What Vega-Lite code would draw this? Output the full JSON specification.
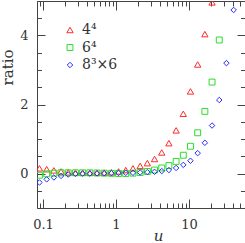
{
  "$schema": "https://vega.github.io/schema/vega-lite/v6.json",
  "width": 208,
  "height": 207,
  "autosize": {"type": "none"},
  "padding": {"left": 37, "top": 1, "right": 0, "bottom": 35},
  "config": {
    "view": {"stroke": "#444", "strokeWidth": 1},
    "font": "DejaVu Serif",
    "axis": {"domain": false, "grid": false, "tickColor": "#444", "tickWidth": 1, "labelColor": "#333", "labelFont": "DejaVu Serif", "labelFontSize": 13, "titleFont": "DejaVu Serif", "titleColor": "#333", "titleFontWeight": "normal"}
  },
  "data": {"values": [
    {"s": "4⁴", "u": 0.0895, "r": 0.15},
    {"s": "4⁴", "u": 0.1123, "r": 0.125},
    {"s": "4⁴", "u": 0.141, "r": 0.09},
    {"s": "4⁴", "u": 0.1768, "r": 0.06},
    {"s": "4⁴", "u": 0.2218, "r": 0.035},
    {"s": "4⁴", "u": 0.2783, "r": 0.025},
    {"s": "4⁴", "u": 0.349, "r": 0.02},
    {"s": "4⁴", "u": 0.438, "r": 0.02},
    {"s": "4⁴", "u": 0.5495, "r": 0.02},
    {"s": "4⁴", "u": 0.6895, "r": 0.025},
    {"s": "4⁴", "u": 0.865, "r": 0.035},
    {"s": "4⁴", "u": 1.085, "r": 0.06},
    {"s": "4⁴", "u": 1.361, "r": 0.1},
    {"s": "4⁴", "u": 1.708, "r": 0.15},
    {"s": "4⁴", "u": 2.143, "r": 0.22},
    {"s": "4⁴", "u": 2.689, "r": 0.3},
    {"s": "4⁴", "u": 3.373, "r": 0.42},
    {"s": "4⁴", "u": 4.232, "r": 0.61},
    {"s": "4⁴", "u": 5.309, "r": 0.88},
    {"s": "4⁴", "u": 6.662, "r": 1.25},
    {"s": "4⁴", "u": 8.356, "r": 1.73},
    {"s": "4⁴", "u": 10.48, "r": 2.38},
    {"s": "4⁴", "u": 13.15, "r": 3.16},
    {"s": "4⁴", "u": 16.5, "r": 4.04},
    {"s": "4⁴", "u": 20.7, "r": 4.96},
    {"s": "6⁴", "u": 0.0895, "r": -0.05},
    {"s": "6⁴", "u": 0.1123, "r": -0.01},
    {"s": "6⁴", "u": 0.141, "r": 0.01},
    {"s": "6⁴", "u": 0.1768, "r": 0.02},
    {"s": "6⁴", "u": 0.2218, "r": 0.02},
    {"s": "6⁴", "u": 0.2783, "r": 0.02},
    {"s": "6⁴", "u": 0.349, "r": 0.02},
    {"s": "6⁴", "u": 0.438, "r": 0.02},
    {"s": "6⁴", "u": 0.5495, "r": 0.015},
    {"s": "6⁴", "u": 0.6895, "r": 0.01},
    {"s": "6⁴", "u": 0.865, "r": 0.005},
    {"s": "6⁴", "u": 1.085, "r": 0.0},
    {"s": "6⁴", "u": 1.361, "r": 0.0},
    {"s": "6⁴", "u": 1.708, "r": 0.01},
    {"s": "6⁴", "u": 2.143, "r": 0.03},
    {"s": "6⁴", "u": 2.689, "r": 0.06},
    {"s": "6⁴", "u": 3.373, "r": 0.1},
    {"s": "6⁴", "u": 4.232, "r": 0.16},
    {"s": "6⁴", "u": 5.309, "r": 0.23},
    {"s": "6⁴", "u": 6.662, "r": 0.35},
    {"s": "6⁴", "u": 8.356, "r": 0.53},
    {"s": "6⁴", "u": 10.48, "r": 0.79},
    {"s": "6⁴", "u": 13.15, "r": 1.18},
    {"s": "6⁴", "u": 16.5, "r": 1.8},
    {"s": "6⁴", "u": 20.7, "r": 2.65},
    {"s": "6⁴", "u": 25.97, "r": 3.87},
    {"s": "8³×6", "u": 0.0895, "r": -0.26},
    {"s": "8³×6", "u": 0.1123, "r": -0.17},
    {"s": "8³×6", "u": 0.141, "r": -0.115},
    {"s": "8³×6", "u": 0.1768, "r": -0.07},
    {"s": "8³×6", "u": 0.2218, "r": -0.03},
    {"s": "8³×6", "u": 0.2783, "r": -0.01},
    {"s": "8³×6", "u": 0.349, "r": 0.0},
    {"s": "8³×6", "u": 0.438, "r": 0.0},
    {"s": "8³×6", "u": 0.5495, "r": 0.005},
    {"s": "8³×6", "u": 0.6895, "r": 0.01},
    {"s": "8³×6", "u": 0.865, "r": 0.01},
    {"s": "8³×6", "u": 1.085, "r": 0.015},
    {"s": "8³×6", "u": 1.361, "r": 0.02},
    {"s": "8³×6", "u": 1.708, "r": 0.02},
    {"s": "8³×6", "u": 2.143, "r": 0.03},
    {"s": "8³×6", "u": 2.689, "r": 0.04},
    {"s": "8³×6", "u": 3.373, "r": 0.05},
    {"s": "8³×6", "u": 4.232, "r": 0.07},
    {"s": "8³×6", "u": 5.309, "r": 0.1},
    {"s": "8³×6", "u": 6.662, "r": 0.16},
    {"s": "8³×6", "u": 8.356, "r": 0.25},
    {"s": "8³×6", "u": 10.48, "r": 0.37},
    {"s": "8³×6", "u": 13.15, "r": 0.59},
    {"s": "8³×6", "u": 16.5, "r": 0.89},
    {"s": "8³×6", "u": 20.7, "r": 1.39},
    {"s": "8³×6", "u": 25.97, "r": 2.13},
    {"s": "8³×6", "u": 32.58, "r": 3.2},
    {"s": "8³×6", "u": 40.88, "r": 4.74}
  ]},
  "layer": [
    {
      "mark": {"type": "point", "filled": false, "strokeWidth": 1, "clip": true, "opacity": 1},
      "encoding": {
        "x": {"field": "u", "type": "quantitative",
          "scale": {"type": "log", "domain": [0.0828, 58.5], "nice": false},
          "axis": {"orient": "bottom",
            "values": [0.09, 0.1, 0.2, 0.3, 0.4, 0.5, 0.6, 0.7, 0.8, 0.9, 1, 2, 3, 4, 5, 6, 7, 8, 9, 10, 20, 30, 40, 50],
            "labelExpr": "datum.value == 0.1 ? '0.1' : datum.value == 1 ? '1' : datum.value == 10 ? '10' : ''",
            "tickSize": {"condition": {"test": "datum.value == 0.1 || datum.value == 1 || datum.value == 10", "value": -9}, "value": -5},
            "labelPadding": 19, "labelOverlap": false, "labelFlush": false,
            "title": "u", "titleFontStyle": "italic", "titleFontSize": 15,
            "titleX": 121, "titleY": 32, "titleBaseline": "alphabetic", "titleAlign": "center"}},
        "y": {"field": "r", "type": "quantitative",
          "scale": {"domain": [-1, 5], "nice": false, "zero": false},
          "axis": {"orient": "left",
            "values": [-1, -0.5, 0, 0.5, 1, 1.5, 2, 2.5, 3, 3.5, 4, 4.5, 5],
            "labelExpr": "(datum.value == 0 || datum.value == 2 || datum.value == 4) ? '' + datum.value : ''",
            "tickSize": {"condition": {"test": "datum.value == 0 || datum.value == 2 || datum.value == 4", "value": -8}, "value": -4.5},
            "labelPadding": 17, "labelOverlap": false, "labelFlush": false,
            "title": "ratio", "titleFontSize": 15,
            "titleX": -24.5, "titleY": 66, "titleBaseline": "alphabetic", "titleAlign": "center", "titleAngle": -90}},
        "color": {"field": "s", "type": "nominal",
          "scale": {"domain": ["4⁴", "6⁴", "8³×6"], "range": ["#ff2a2a", "#2ade2a", "#2a2aff"]},
          "legend": {"orient": "none", "legendX": 26, "legendY": 22, "title": null, "padding": 0,
            "labelFont": "DejaVu Serif", "labelFontSize": 14, "labelColor": "#333",
            "symbolSize": 44, "symbolStrokeWidth": 1, "labelOffset": 5, "rowPadding": 3.5}},
        "shape": {"field": "s", "type": "nominal",
          "scale": {"domain": ["4⁴", "6⁴", "8³×6"], "range": ["triangle-up", "square", "diamond"]},
          "legend": {"orient": "none", "legendX": 26, "legendY": 22, "title": null, "padding": 0,
            "labelFont": "DejaVu Serif", "labelFontSize": 14, "labelColor": "#333",
            "symbolSize": 44, "symbolStrokeWidth": 1, "labelOffset": 5, "rowPadding": 3.5}},
        "size": {"field": "s", "type": "ordinal",
          "scale": {"domain": ["4⁴", "6⁴", "8³×6"], "range": [40, 30, 50]},
          "legend": null}
      }
    },
    {
      "mark": {"type": "point", "opacity": 0},
      "encoding": {
        "x": {"field": "u", "type": "quantitative",
          "axis": {"orient": "top", "labels": false, "title": null,
            "values": [0.09, 0.1, 0.2, 0.3, 0.4, 0.5, 0.6, 0.7, 0.8, 0.9, 1, 2, 3, 4, 5, 6, 7, 8, 9, 10, 20, 30, 40, 50],
            "tickSize": {"condition": {"test": "datum.value == 0.1 || datum.value == 1 || datum.value == 10", "value": -9}, "value": -5}}},
        "y": {"field": "r", "type": "quantitative",
          "axis": {"orient": "right", "labels": false, "title": null,
            "values": [-1, -0.5, 0, 0.5, 1, 1.5, 2, 2.5, 3, 3.5, 4, 4.5, 5],
            "tickSize": {"condition": {"test": "datum.value == 0 || datum.value == 2 || datum.value == 4", "value": -8}, "value": -4.5}}}
      }
    }
  ],
  "resolve": {"axis": {"x": "independent", "y": "independent"}}
}
